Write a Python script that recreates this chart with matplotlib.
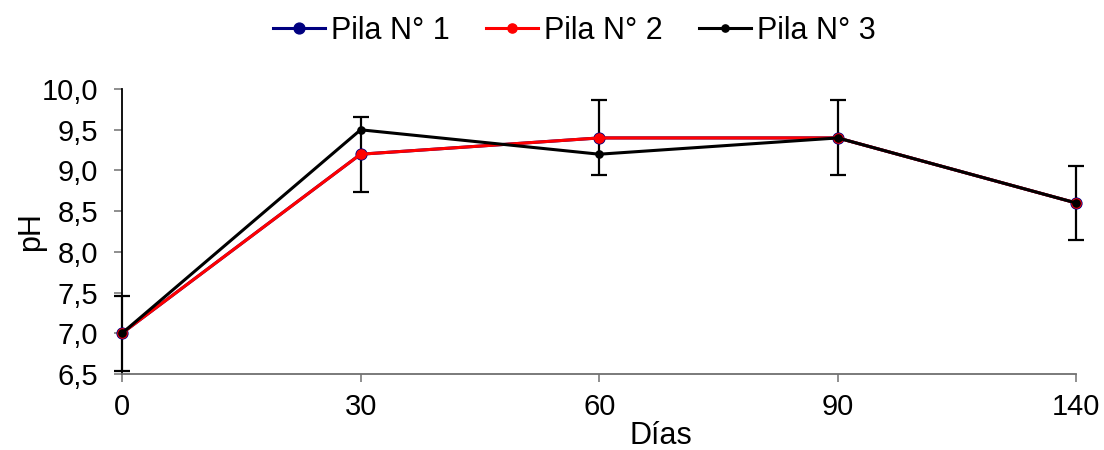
import numpy as np
import matplotlib.pyplot as plt
from matplotlib.ticker import FuncFormatter

plt.rcParams['font.family'] = ['Liberation Sans', 'DejaVu Sans']

# datos
dias = ['0', '30', '60', '90', '140']
pila1 = [7.0, 9.2, 9.4, 9.4, 8.6]
pila2 = [7.0, 9.2, 9.4, 9.4, 8.6]
pila3 = [7.0, 9.5, 9.2, 9.4, 8.6]
error = [0.46, 0.46, 0.46, 0.46, 0.46]


def plot_ph():
    x = np.arange(len(dias))
    fig, ax = plt.subplots(figsize=(11.04, 4.5), dpi=100)
    fig.subplots_adjust(left=0.1105, right=0.975, top=0.802, bottom=0.169)

    ax.errorbar(x, pila2, yerr=error, fmt='none', ecolor='black',
                elinewidth=1.6, capsize=6, capthick=1.6, zorder=2, clip_on=False)
    ax.plot(x, pila1, color='#000080', marker='o', markersize=7.8,
            markerfacecolor='#000080', markeredgecolor='#000080',
            linewidth=2.2, label='Pila N° 1', zorder=3, clip_on=False)
    ax.plot(x, pila2, color='red', marker='o', markersize=6.6,
            markerfacecolor='red', markeredgecolor='red',
            linewidth=2.2, label='Pila N° 2', zorder=4, clip_on=False)
    ax.plot(x, pila3, color='black', marker='o', markersize=5.2,
            linewidth=2.2, label='Pila N° 3', zorder=5, clip_on=False)

    ax.set_xlim(0, len(dias) - 1)
    ax.set_ylim(6.5, 10.0)
    ax.set_xticks(x)
    ax.set_xticklabels(dias)
    ax.set_yticks(np.arange(6.5, 10.01, 0.5))
    ax.yaxis.set_major_formatter(FuncFormatter(lambda v, p: f"{v:.1f}".replace('.', ',')))

    ax.spines['top'].set_visible(False)
    ax.spines['right'].set_visible(False)
    ax.spines['left'].set_color('black')
    ax.spines['left'].set_linewidth(1.3)
    ax.spines['bottom'].set_color('#707070')
    ax.spines['bottom'].set_linewidth(1.3)
    ax.tick_params(axis='both', direction='out', length=6, width=1.1,
                   color='#707070', labelsize=21)
    ax.tick_params(axis='x', pad=8)
    ax.tick_params(axis='y', pad=11)

    ax.set_xlabel('Días', fontsize=22)
    ax.xaxis.set_label_coords(0.565, -0.165)
    ax.set_ylabel('pH', fontsize=22)
    ax.yaxis.set_label_coords(-0.08, 0.5)

    ax.legend(loc='upper center', bbox_to_anchor=(0.474, 1.30), ncol=3,
              frameon=False, fontsize=22, handlelength=1.7, handletextpad=0.2,
              columnspacing=1.2, borderaxespad=0)

    plt.savefig('out.png', dpi=100)
    plt.close()


def main():
    plot_ph()


if __name__ == "__main__":
    main()
